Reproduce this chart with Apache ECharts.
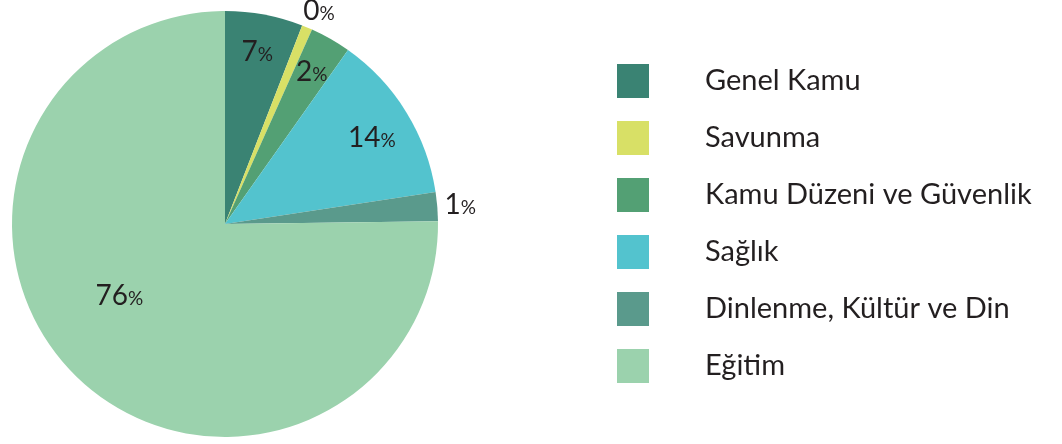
<!DOCTYPE html>
<html>
<head>
<meta charset="utf-8">
<script src="https://cdn.jsdelivr.net/npm/echarts@6/dist/echarts.min.js"></script>
<style>html,body{margin:0;padding:0;background:#fff}#c{width:1062px;height:444px}</style>
</head>
<body>
<div id="c"></div>
<script>
// ---- data ----
var categories = ['Genel Kamu', 'Savunma', 'Kamu Düzeni ve Güvenlik', 'Sağlık', 'Dinlenme, Kültür ve Din', 'Eğitim'];
var values = [5.9, 0.8, 3.1, 12.8, 2.2, 75.2];          // slice sizes
var labelValues = [7, 0, 2, 14, 1, 76];                 // percentages printed on the chart

// ---- style ----
var colors = ['#3a8373', '#d8e066', '#53a074', '#53c3ce', '#5a9a8c', '#9bd2ad'];
var FONT = 'Lato';
var TEXT = '#231f20';
var CENTER = [225, 224];
var R = 213;
// label rings: which slices get their label on which ring, with small nudges
var rings = [
  { radius: 344, items: [0, 2] },
  { radius: 344, items: [3], offset: [-2, 6] },
  { radius: 466, items: [1], offset: [3, 5] },
  { radius: 466, items: [4] },
  { radius: 252, items: [5], offset: [-15, -20] }
];

var chart = echarts.init(document.getElementById('c'), null, { renderer: 'canvas' });

var rich = {
  n: { fontFamily: FONT, fontSize: 28, color: TEXT },
  p: { fontFamily: FONT, fontSize: 19, color: TEXT, padding: [6, 0, 0, 0] }
};

var series = [{
  type: 'pie',
  center: CENTER,
  radius: [0, R],
  startAngle: 90,
  clockwise: true,
  avoidLabelOverlap: false,
  label: { show: false },
  labelLine: { show: false },
  emphasis: { disabled: true },
  itemStyle: { borderWidth: 0 },
  data: categories.map(function (c, i) {
    return { name: c, value: values[i], itemStyle: { color: colors[i] } };
  })
}];

rings.forEach(function (ring) {
  series.push({
    type: 'pie',
    center: CENTER,
    radius: [0, ring.radius],
    startAngle: 90,
    clockwise: true,
    silent: true,
    avoidLabelOverlap: false,
    emphasis: { disabled: true },
    labelLine: { show: false },
    itemStyle: { color: 'rgba(0,0,0,0)', borderWidth: 0 },
    z: 5,
    data: categories.map(function (c, i) {
      var show = ring.items.indexOf(i) >= 0;
      return {
        name: c,
        value: values[i],
        label: {
          show: show,
          position: 'inside',
          offset: ring.offset || [0, 0],
          formatter: '{n|' + labelValues[i] + '}{p|%}',
          rich: rich
        }
      };
    })
  });
});

chart.setOption({
  animation: false,
  backgroundColor: '#ffffff',
  color: colors,
  legend: {
    orient: 'vertical',
    left: 617,
    top: 64,
    padding: 0,
    icon: 'rect',
    itemWidth: 32,
    itemHeight: 34,
    itemGap: 23,
    selectedMode: false,
    data: categories.map(function (c, i) { return { name: c, itemStyle: { color: colors[i] } }; }),
    textStyle: { fontFamily: FONT, fontSize: 29, color: TEXT, padding: [6, 0, 0, 51] }
  },
  series: series
});
</script>
</body>
</html>
